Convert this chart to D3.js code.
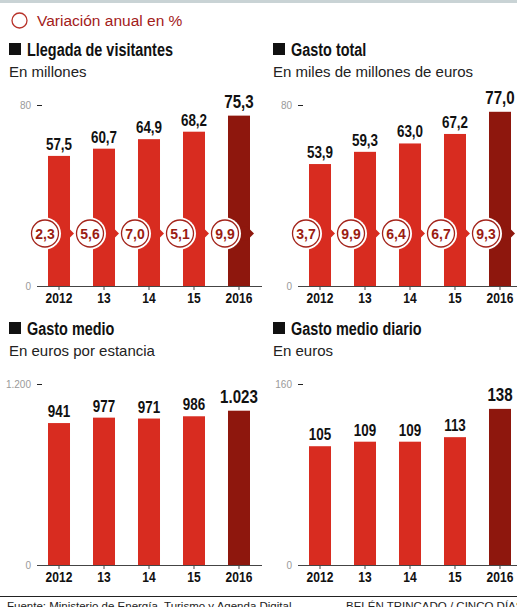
<!DOCTYPE html>
<html>
<head>
<meta charset="utf-8">
<script src="https://cdn.jsdelivr.net/npm/d3@7"></script>
<style>
  body { margin: 0; background: #fff; }
  svg { display: block; }
  .cond { font-family: "Liberation Sans", Arial, sans-serif; font-weight: bold; }
  .reg { font-family: "Liberation Sans", Arial, sans-serif; }
  .tick-label { font-family: "Liberation Sans", Arial, sans-serif; font-size: 10px; fill: #9a9a9a; }
</style>
</head>
<body>
<div id="chart"></div>
<script>
// Data
var years = ['2012', '13', '14', '15', '2016'];
var visitantes = [57.5, 60.7, 64.9, 68.2, 75.3];
var visitantesVar = [2.3, 5.6, 7.0, 5.1, 9.9];
var gastoTotal = [53.9, 59.3, 63.0, 67.2, 77.0];
var gastoTotalVar = [3.7, 9.9, 6.4, 6.7, 9.3];
var gastoMedio = [941, 977, 971, 986, 1023];
var gastoDiario = [105, 109, 109, 113, 138];
var titles = ['Llegada de visitantes', 'Gasto total', 'Gasto medio', 'Gasto medio diario'];
var subtitles = ['En millones', 'En miles de millones de euros', 'En euros por estancia', 'En euros'];
var tickMax = [80, 80, 1200, 160];

var width = 517,
    height = 607,
    red = '#d82c20',
    darkRed = '#8e170d',
    textRed = '#a3201a';

var es = d3.formatLocale({ decimal: ',', thousands: '.', grouping: [3], currency: ['', '€'] });
var fmt1 = es.format(',.1f'),
    fmtInt = es.format(',d');

var panels = [
  { values: visitantes, change: visitantesVar, fmt: fmt1, cx: 0, tx: 0, oy: 0 },
  { values: gastoTotal, change: gastoTotalVar, fmt: fmt1, cx: 261, tx: 264, oy: 0 },
  { values: gastoMedio, change: null, fmt: fmtInt, cx: 0, tx: 0, oy: 279 },
  { values: gastoDiario, change: null, fmt: fmtInt, cx: 261, tx: 264, oy: 279 }
];

// Fake a condensed face by squeezing the text horizontally
function squeeze(x, y, s){
  return 'translate(' + x + ',' + y + ') scale(' + s + ',1)';
}

var svg = d3.select('#chart')
  .append('svg')
    .attr('width', width)
    .attr('height', height);

// Top band
svg.append('rect')
  .attr('x', 0).attr('y', 0)
  .attr('width', width).attr('height', 3)
  .attr('fill', '#c9d3d5');

// Legend
svg.append('circle')
  .attr('cx', 19.5).attr('cy', 20.5).attr('r', 7.5)
  .attr('fill', 'none')
  .attr('stroke', '#b8332a')
  .attr('stroke-width', 1.3);
svg.append('text')
  .attr('class', 'reg')
  .attr('x', 37).attr('y', 26)
  .attr('font-size', 15.5)
  .attr('fill', textRed)
  .text('Variación anual en %');

panels.forEach(function(p, k){
  var g = svg.append('g').attr('transform', 'translate(0,' + p.oy + ')');

  // Title and subtitle
  g.append('rect')
    .attr('x', 9 + p.tx).attr('y', 43)
    .attr('width', 12).attr('height', 12)
    .attr('fill', '#111');
  g.append('text')
    .attr('class', 'cond')
    .attr('transform', squeeze(27 + p.tx, 56, 0.76))
    .attr('font-size', 19)
    .attr('fill', '#111')
    .text(titles[k]);
  g.append('text')
    .attr('class', 'reg')
    .attr('x', 9 + p.tx).attr('y', 77)
    .attr('font-size', 15)
    .attr('fill', '#222')
    .text(subtitles[k]);

  // Scales
  var x = d3.scaleBand()
    .domain(years)
    .range([36.5 + p.cx, 261.5 + p.cx])
    .paddingInner(0.511)
    .paddingOuter(0.2556);

  var y = d3.scaleLinear()
    .domain([0, tickMax[k]])
    .range([286, 105]);

  var data = years.map(function(yr, i){
    return { year: yr, value: p.values[i], change: p.change ? p.change[i] : null, last: i === years.length - 1 };
  });

  // Bars
  g.selectAll('.bar')
    .data(data)
    .enter()
      .append('rect')
        .attr('class', 'bar')
        .attr('x', function(d){ return x(d.year); })
        .attr('y', function(d){ return y(d.value); })
        .attr('width', x.bandwidth())
        .attr('height', function(d){ return y(0) - y(d.value); })
        .attr('fill', function(d){ return d.last ? darkRed : red; });

  // Value labels
  g.selectAll('.val')
    .data(data)
    .enter()
      .append('text')
        .attr('class', 'cond val')
        .attr('transform', function(d){
          return squeeze(x(d.year) + x.bandwidth() / 2, y(d.value) - (d.last ? 8 : 6), 0.84);
        })
        .attr('text-anchor', 'middle')
        .attr('font-size', function(d){ return d.last ? 18 : 16; })
        .attr('fill', '#111')
        .text(function(d){ return p.fmt(d.value); });

  // Y axis: two ticks only
  var yAxis = g.append('g')
    .attr('transform', 'translate(' + (42 + p.cx) + ',0)')
    .call(d3.axisLeft(y).tickValues([0, tickMax[k]]).tickSize(5).tickPadding(6)
      .tickFormat(function(v){ return fmtInt(v); }));
  yAxis.select('.domain').remove();
  yAxis.selectAll('line').attr('stroke', '#222');
  yAxis.selectAll('text').attr('class', 'tick-label').attr('font-size', null).attr('fill', null).attr('font-family', null);

  // X axis
  var xAxis = g.append('g')
    .attr('transform', 'translate(0,' + y(0) + ')')
    .call(d3.axisBottom(x).tickSize(4).tickSizeOuter(0));
  xAxis.select('.domain').attr('stroke', '#444').attr('stroke-width', 1.2);
  xAxis.selectAll('line').attr('stroke', '#444');
  xAxis.selectAll('text')
    .attr('class', 'cond')
    .attr('font-family', null)
    .attr('font-size', 14)
    .attr('fill', '#111')
    .attr('y', 17)
    .attr('dy', 0)
    .attr('transform', 'scale(0.86,1)');

  // Annual change circles
  if (p.change) {
    var cy = y(tickMax[k] * 0.29);
    var marks = g.selectAll('.chg')
      .data(data)
      .enter()
        .append('g')
          .attr('class', 'chg')
          .attr('transform', function(d){ return 'translate(' + (x(d.year) + x.bandwidth() / 2 - 14) + ',' + cy + ')'; });

    marks.append('path')
      .attr('d', function(d){
        var tip = x.bandwidth() / 2 + 14 + 4;
        return 'M0,-7L' + (tip - 7) + ',-7L' + tip + ',0L' + (tip - 7) + ',7L0,7Z';
      })
      .attr('fill', function(d){ return d.last ? darkRed : red; });

    marks.append('circle')
      .attr('r', 16)
      .attr('fill', '#fff');
    marks.append('circle')
      .attr('r', 13.5)
      .attr('fill', '#fff')
      .attr('stroke', '#a3241b')
      .attr('stroke-width', 1.3);
    marks.append('text')
      .attr('class', 'cond')
      .attr('text-anchor', 'middle')
      .attr('y', 5)
      .attr('font-size', 14)
      .attr('fill', '#9a1c12')
      .text(function(d){ return fmt1(d.change); });
  }
});

// Footer
svg.append('line')
  .attr('x1', 0).attr('x2', width)
  .attr('y1', 596.5).attr('y2', 596.5)
  .attr('stroke', '#222')
  .attr('stroke-width', 1);
svg.append('text')
  .attr('class', 'reg')
  .attr('x', 7).attr('y', 609.5)
  .attr('font-size', 11.5)
  .attr('fill', '#222')
  .text('Fuente: Ministerio de Energía, Turismo y Agenda Digital');
svg.append('text')
  .attr('class', 'reg')
  .attr('x', 346).attr('y', 609.5)
  .attr('font-size', 11.5)
  .attr('fill', '#222')
  .text('BELÉN TRINCADO / CINCO DÍAS');
</script>
</body>
</html>
